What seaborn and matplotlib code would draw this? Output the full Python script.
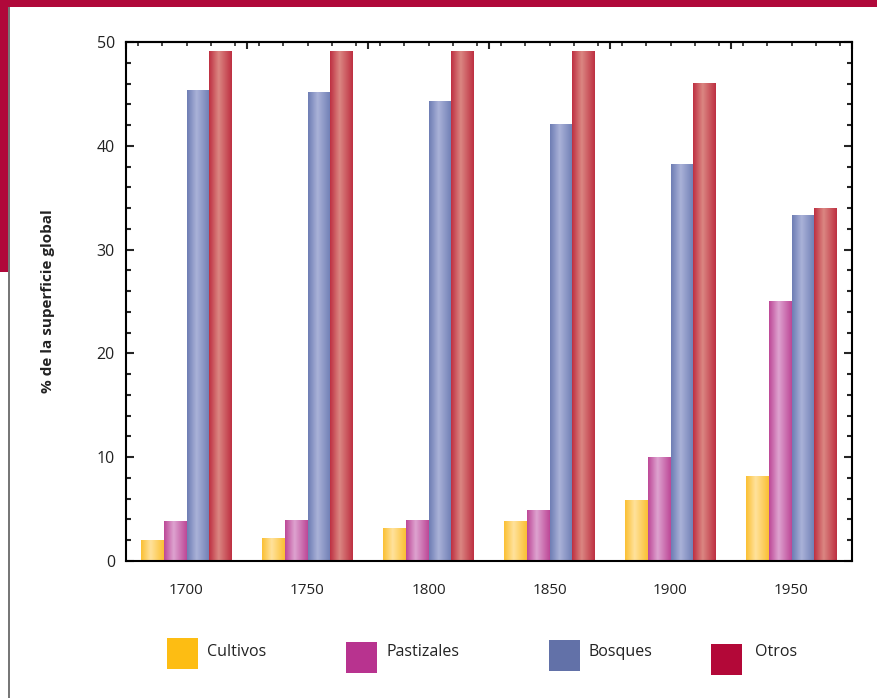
import numpy as np
import pandas as pd
import matplotlib
matplotlib.use('Agg')
import matplotlib.pyplot as plt
import seaborn as sns
from matplotlib.colors import LinearSegmentedColormap
from matplotlib.patches import Rectangle
from matplotlib.ticker import MultipleLocator

# Datos
anios = ['1700', '1750', '1800', '1850', '1900', '1950']
cultivos = [2.0, 2.2, 3.1, 3.8, 5.8, 8.1]
pastizales = [3.8, 3.9, 3.9, 4.9, 10.0, 25.0]
bosques = [45.3, 45.1, 44.3, 42.1, 38.2, 33.3]
otros = [49.1, 49.1, 49.1, 49.1, 46.0, 34.0]
categorias = ['Cultivos', 'Pastizales', 'Bosques', 'Otros']

df = pd.DataFrame({'Año': anios, 'Cultivos': cultivos, 'Pastizales': pastizales,
                   'Bosques': bosques, 'Otros': otros})
df_long = df.melt(id_vars='Año', var_name='Uso', value_name='Porcentaje')

# colores: (borde oscuro, centro claro) y color solido de la leyenda
grad = {'Cultivos': ('#FBC033', '#FFE29C'),
        'Pastizales': ('#BD4897', '#DEA3D0'),
        'Bosques': ('#6E7DB4', '#AAB2D8'),
        'Otros': ('#BE3042', '#DB8782')}
solidos = {'Cultivos': '#FDBD13', 'Pastizales': '#B8338F',
           'Bosques': '#6271A8', 'Otros': '#B30838'}

sns.set_style('white')
plt.rcParams['font.family'] = ['Open Sans', 'DejaVu Sans']
texto = '#222222'

fig = plt.figure(figsize=(8.77, 6.98), dpi=100)
ax = fig.add_axes([126 / 877, 1 - 561 / 698, 726 / 877, 519 / 698])

sns.barplot(data=df_long, x='Año', y='Porcentaje', hue='Uso', hue_order=categorias,
            palette=solidos, width=0.75, gap=0, legend=False, ax=ax)

# degradado tipo cilindro en cada barra
for cont, cat in zip(ax.containers, categorias):
    oscuro, claro = grad[cat]
    cmap = LinearSegmentedColormap.from_list(cat, [(0, oscuro), (0.42, claro), (1, oscuro)])
    for bar in cont:
        x0, y0, w, h = bar.get_x(), bar.get_y(), bar.get_width(), bar.get_height()
        bar.set_facecolor('none')
        bar.set_edgecolor('none')
        ax.imshow(np.linspace(0, 1, 64).reshape(1, -1), cmap=cmap, aspect='auto',
                  extent=[x0, x0 + w, y0, y0 + h], zorder=2, interpolation='bilinear')

ax.set_xlim(-0.5, 5.5)
ax.set_ylim(0, 50)
ax.set_aspect('auto')
ax.set_xlabel('')
ax.set_ylabel('% de la superficie global', fontsize=11, fontweight='bold',
              color=texto, labelpad=30)

for s in ax.spines.values():
    s.set_visible(True)
    s.set_color('black')
    s.set_linewidth(1.5)

ax.yaxis.set_major_locator(MultipleLocator(10))
ax.yaxis.set_minor_locator(MultipleLocator(2))
ax.tick_params(axis='y', which='major', direction='in', length=6, width=1.5,
               left=True, right=True, labelsize=11.5, labelcolor=texto, pad=8)
ax.tick_params(axis='y', which='minor', direction='in', length=3.5, width=1.5,
               left=True, right=True)
ax.tick_params(axis='x', which='both', length=0, labelsize=11, labelcolor=texto, pad=16)

# marcas superiores
top = ax.secondary_xaxis('top')
top.set_xticks(np.arange(-0.5, 5.6, 1.0))
top.xaxis.set_minor_locator(MultipleLocator(0.2))
top.tick_params(which='major', direction='in', length=5, width=1.5, labeltop=False)
top.tick_params(which='minor', direction='in', length=3, width=1.2)
top.spines['top'].set_linewidth(1.5)

# leyenda manual
leyenda = [('Cultivos', 167, 638, 207), ('Pastizales', 346, 642, 387),
           ('Bosques', 549, 640, 588), ('Otros', 711, 644, 755)]
for cat, bx, by, tx in leyenda:
    fig.patches.append(Rectangle((bx / 877, 1 - (by + 31) / 698), 31 / 877, 31 / 698,
                                 transform=fig.transFigure, facecolor=solidos[cat],
                                 edgecolor='none'))
    fig.text(tx / 877, 1 - 652 / 698, cat, fontsize=11.5, color=texto, va='center')

# marco decorativo
rojo = '#B0083A'
fig.patches.append(Rectangle((0, 1 - 7 / 698), 1, 7 / 698, transform=fig.transFigure,
                             facecolor=rojo, edgecolor='none'))
fig.patches.append(Rectangle((0, 1 - 272 / 698), 8 / 877, 272 / 698,
                             transform=fig.transFigure, facecolor=rojo, edgecolor='none'))
fig.patches.append(Rectangle((8 / 877, 0), 1.5 / 877, 1 - 7 / 698, transform=fig.transFigure,
                             facecolor='#777777', edgecolor='none'))

fig.savefig('out.png', dpi=100)
